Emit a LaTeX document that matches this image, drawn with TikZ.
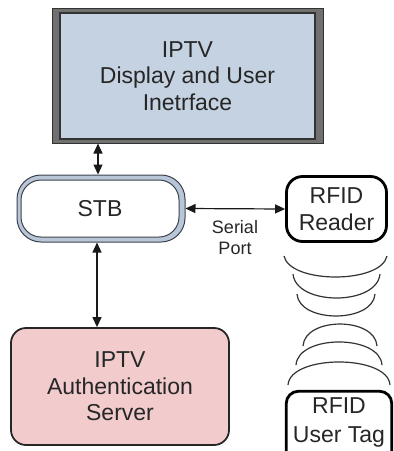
\documentclass[tikz,border=0pt]{standalone}
\usepackage{fontspec}
\setmainfont{Liberation Sans}
\usetikzlibrary{arrows.meta}
\definecolor{dispfill}{RGB}{197,210,225}
\definecolor{framegray}{RGB}{112,112,112}
\definecolor{band}{RGB}{184,198,216}
\definecolor{edgecol}{RGB}{60,66,76}
\definecolor{authfill}{RGB}{242,204,204}
\begin{document}
\begin{tikzpicture}[x=1pt,y=-1pt,
  lbl/.style={font=\fontsize{23}{26.5}\selectfont, align=center, text=black!85, inner sep=0pt},
  arr/.style={{Triangle[length=10pt,width=9pt]}-{Triangle[length=10pt,width=9pt]}, line width=1.2pt, draw=black!90},
  wave/.style={line width=1.2pt, draw=black!80}]
\useasboundingbox (0,0) rectangle (394,451);
\clip (0,0) rectangle (394,451);

% Display
\node[draw=black!80, fill=framegray, line width=1pt, minimum width=271pt, minimum height=135pt, inner sep=0pt] (dispframe) at (187.5,75.5) {};
\node[draw=black!80, fill=dispfill, line width=1.2pt, minimum width=255pt, minimum height=126pt, lbl] (disp) at (187.5,76) {IPTV\\Display and User\\Inetrface};

% STB
\node[draw=edgecol, fill=band, line width=1pt, rounded corners=24pt, minimum width=168pt, minimum height=67pt, inner sep=0pt] (stbouter) at (101,208.5) {};
\node[draw=edgecol, fill=white, line width=1pt, rounded corners=20pt, minimum width=158pt, minimum height=57pt, lbl] (stb) at (100,208.5) {STB};

% RFID Reader
\node[draw=black, fill=white, line width=2.8pt, rounded corners=16pt, minimum width=100pt, minimum height=65pt, lbl] (reader) at (336.5,209) {RFID\\Reader};

% Auth server
\node[draw=black!85, fill=authfill, line width=1.8pt, rounded corners=15pt, minimum width=218pt, minimum height=117pt, lbl] (auth) at (120,386.5) {IPTV\\Authentication\\Server};

% RFID User Tag
\node[minimum width=105pt, minimum height=62pt, lbl, font=\fontsize{23}{29}\selectfont] (tag) at (339,422.5) {RFID\\User Tag};
\draw[line width=2.8pt, rounded corners=12pt] ([yshift=-20pt]tag.south west) -- (tag.north west) -- (tag.north east) -- ([yshift=-20pt]tag.south east);

% Connectors
\coordinate (c1) at (98,0);
\coordinate (c2) at (97,0);
\draw[arr] (c1 |- dispframe.south) -- (c1 |- stbouter.north);
\draw[arr] (stbouter.east) -- (reader.west);
\draw[arr] (c2 |- stbouter.south) -- (c2 |- auth.north);
\node[font=\fontsize{18}{21.5}\selectfont, align=center, text=black!85, inner sep=0pt] (serial) at (235,237.5) {Serial\\Port};

% Waves
\draw[wave] (284,256) .. controls (290,284) and (381,284) .. (387,256);
\draw[wave] (293,274) .. controls (296,306) and (377,306) .. (380,274);
\draw[wave] (297,294) .. controls (299,323.3) and (373,323.3) .. (375,294);
\draw[wave] (303,346) .. controls (305,316.7) and (375,316.7) .. (377,346);
\draw[wave] (296,365) .. controls (298,334.3) and (380,334.3) .. (382,365);
\draw[wave] (288,385) .. controls (290,354.3) and (388,354.3) .. (390,385);
\end{tikzpicture}
\end{document}
